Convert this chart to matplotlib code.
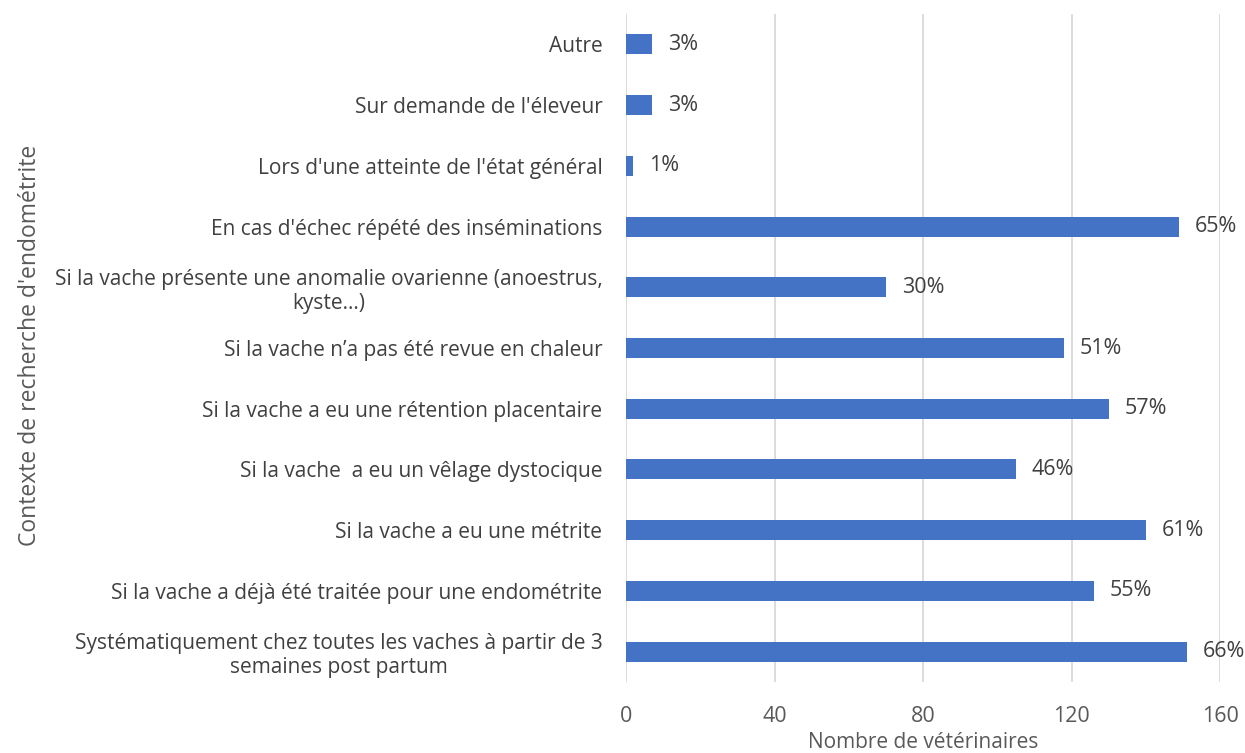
import matplotlib
matplotlib.use("Agg")
import matplotlib.pyplot as plt

categories = [
    "Autre",
    "Sur demande de l'éleveur",
    "Lors d'une atteinte de l'état général",
    "En cas d'échec répété des inséminations",
    "Si la vache présente une anomalie ovarienne (anoestrus,\nkyste...)",
    "Si la vache n’a pas été revue en chaleur",
    "Si la vache a eu une rétention placentaire",
    "Si la vache  a eu un vêlage dystocique",
    "Si la vache a eu une métrite",
    "Si la vache a déjà été traitée pour une endométrite",
    "Systématiquement chez toutes les vaches à partir de 3\nsemaines post partum",
]
values = [7, 7, 2, 149, 70, 118, 130, 105, 140, 126, 151]
labels = ["3%", "3%", "1%", "65%", "30%", "51%", "57%", "46%", "61%", "55%", "66%"]
xticks = [0, 40, 80, 120, 160]

plt.rcParams['font.family'] = ['Open Sans', 'DejaVu Sans']

fig = plt.figure(figsize=(12.45, 7.53), dpi=100)
ax = fig.add_axes([626/1245, 1-682/753, (1220-626)/1245, (682-14)/753])

pos = list(range(len(categories)))
ax.barh(pos, values, height=0.33, color="#4472C4", zorder=3)
for p, v, l in zip(pos, values, labels):
    ax.text(v + 4.3, p, l, va="center", ha="left", fontsize=15.5, color="#404040", zorder=4)

ax.set_ylim(len(categories) - 0.5, -0.5)
ax.set_xlim(0, 160)
ax.set_xticks(xticks)
ax.set_xticklabels([str(t) for t in xticks], fontsize=15.5, color="#595959")
ax.set_yticks(pos)
ax.set_yticklabels(categories, fontsize=15, color="#404040", ha="right", multialignment="center")
ax.tick_params(axis="y", length=0, pad=17)
ax.tick_params(axis="x", length=0, pad=17)
ax.grid(axis="x", color="#D9D9D9", linewidth=1.3, zorder=0)
for s in ax.spines.values():
    s.set_visible(False)
ax.set_xlabel("Nombre de vétérinaires", fontsize=15, color="#595959", labelpad=4)
fig.text(30/1245, 1-345/753, "Contexte de recherche d'endométrite", rotation=90,
         ha="center", va="center", fontsize=16.5, color="#595959")

fig.savefig("out.png", dpi=100)
